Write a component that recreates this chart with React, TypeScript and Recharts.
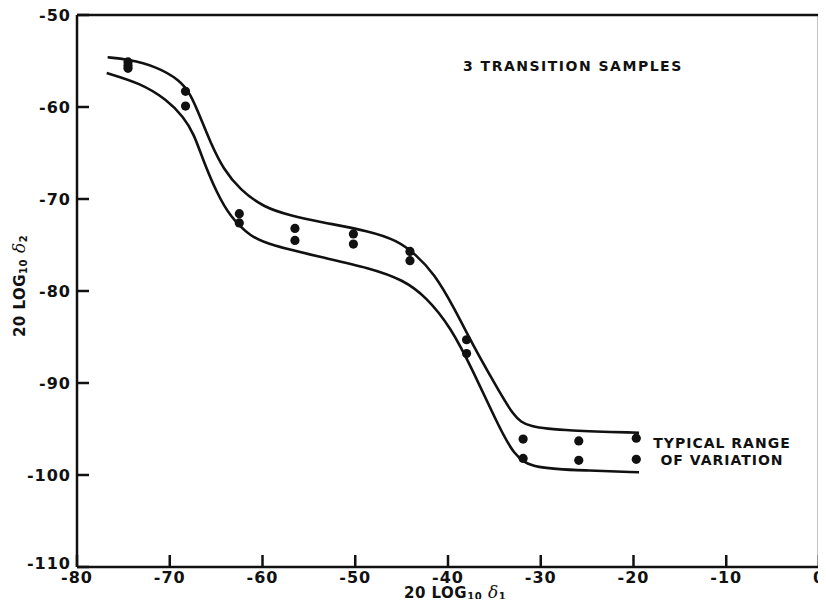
import { ComposedChart, Line, Scatter, XAxis, YAxis, ReferenceLine } from 'recharts';

// upper and lower bounds of the typical range of variation
const upperBound = [
  { x: -76.7, y: -54.6 },
  { x: -74.6, y: -54.8 },
  { x: -71.4, y: -55.6 },
  { x: -68.9, y: -57.1 },
  { x: -67.8, y: -58.5 },
  { x: -66.7, y: -61.1 },
  { x: -65.6, y: -63.9 },
  { x: -64.2, y: -66.8 },
  { x: -62.4, y: -69.0 },
  { x: -59.9, y: -70.9 },
  { x: -57.0, y: -71.8 },
  { x: -53.8, y: -72.5 },
  { x: -48.4, y: -73.5 },
  { x: -45.5, y: -74.5 },
  { x: -43.5, y: -76.0 },
  { x: -41.5, y: -78.1 },
  { x: -39.4, y: -81.7 },
  { x: -37.2, y: -86.1 },
  { x: -35.0, y: -90.0 },
  { x: -32.9, y: -93.7 },
  { x: -31.4, y: -94.8 },
  { x: -27.1, y: -95.2 },
  { x: -19.4, y: -95.4 },
  { x: -19.4, y: -95.4 },
];

const lowerBound = [
  { x: -76.8, y: -56.3 },
  { x: -73.2, y: -57.4 },
  { x: -70.3, y: -59.2 },
  { x: -68.5, y: -61.1 },
  { x: -67.4, y: -62.9 },
  { x: -66.4, y: -65.8 },
  { x: -64.9, y: -69.4 },
  { x: -63.5, y: -71.9 },
  { x: -61.3, y: -74.1 },
  { x: -59.2, y: -75.0 },
  { x: -53.8, y: -76.3 },
  { x: -48.4, y: -77.5 },
  { x: -44.8, y: -78.8 },
  { x: -42.4, y: -80.6 },
  { x: -39.7, y: -83.9 },
  { x: -37.2, y: -88.9 },
  { x: -35.0, y: -93.7 },
  { x: -32.9, y: -98.0 },
  { x: -30.7, y: -99.3 },
  { x: -25.3, y: -99.5 },
  { x: -19.4, y: -99.7 },
  { x: -19.4, y: -99.7 },
];

// measured samples
const samples = [
  { x: -74.5, y: -55.1 },
  { x: -74.5, y: -55.5 },
  { x: -74.5, y: -55.8 },
  { x: -68.3, y: -58.3 },
  { x: -68.3, y: -59.9 },
  { x: -62.5, y: -71.6 },
  { x: -62.5, y: -72.6 },
  { x: -56.5, y: -73.2 },
  { x: -56.5, y: -74.5 },
  { x: -50.2, y: -73.8 },
  { x: -50.2, y: -74.9 },
  { x: -44.1, y: -75.7 },
  { x: -44.1, y: -76.7 },
  { x: -38.0, y: -85.3 },
  { x: -38.0, y: -86.8 },
  { x: -31.9, y: -96.1 },
  { x: -31.9, y: -98.2 },
  { x: -25.9, y: -96.3 },
  { x: -25.9, y: -98.4 },
  { x: -19.7, y: -96.0 },
  { x: -19.7, y: -98.3 },
];

const xTicks = [-80, -70, -60, -50, -40, -30, -20, -10, 0];
const yTicks = [-50, -60, -70, -80, -90, -100, -110];

const FONT = '"DejaVu Sans", sans-serif';
const INK = '#111';

const fmt = (v: number) => (v < 0 ? '-' + Math.abs(v) : String(v));

// ticks point inward from the axis line
const YTick = (props: any) => {
  const { x, y, payload } = props;
  // the bottom label sits a little higher to clear the x labels
  const dy = payload.value === -110 ? 2 : 6;
  return (
    <g>
      <line x1={x} y1={y} x2={x + 12} y2={y} stroke={INK} strokeWidth={2.5} />
      <text
        x={x - 6}
        y={y}
        dy={dy}
        textAnchor="end"
        fontSize={16}
        fontWeight="bold"
        letterSpacing={1}
        fontFamily={FONT}
        fill={INK}
      >
        {fmt(payload.value)}
      </text>
    </g>
  );
};

const XTick = (props: any) => {
  const { x, y, payload } = props;
  return (
    <g>
      <line x1={x} y1={y} x2={x} y2={y - 12} stroke={INK} strokeWidth={2.5} />
      <text
        x={x}
        y={y}
        dy={16}
        textAnchor="middle"
        fontSize={16}
        fontWeight="bold"
        letterSpacing={1}
        fontFamily={FONT}
        fill={INK}
      >
        {fmt(payload.value)}
      </text>
    </g>
  );
};

const Dot = (props: any) => <circle cx={props.cx} cy={props.cy} r={4.6} fill={INK} />;

const noteStyle = { fontSize: 14, fontWeight: 'bold' as const, fontFamily: FONT, fill: INK };
const titleStyle = { ...noteStyle, fontSize: 15, letterSpacing: 0.5 };

export default function App() {
  return (
    <div style={{ margin: -8 }}>
      <ComposedChart width={826} height={607} margin={{ top: 15, right: 7, left: 17, bottom: 0 }}>
        <XAxis
          type="number"
          dataKey="x"
          domain={[-80, 0]}
          ticks={xTicks}
          interval={0}
          height={40}
          tickSize={0}
          tickMargin={0}
          tickLine={false}
          tick={<XTick />}
          axisLine={{ stroke: INK, strokeWidth: 2.5 }}
          allowDataOverflow
        />
        <YAxis
          type="number"
          dataKey="y"
          domain={[-110, -50]}
          ticks={yTicks}
          interval={0}
          width={60}
          tickSize={0}
          tickMargin={0}
          tickLine={false}
          tick={<YTick />}
          axisLine={{ stroke: INK, strokeWidth: 2.5 }}
          allowDataOverflow
        />
        <ReferenceLine y={-50} stroke={INK} strokeWidth={2.5} />
        <ReferenceLine x={0} stroke={INK} strokeWidth={2.5} />
        <Line
          data={upperBound}
          dataKey="y"
          type="basis"
          stroke={INK}
          strokeWidth={2.6}
          dot={false}
          isAnimationActive={false}
        />
        <Line
          data={lowerBound}
          dataKey="y"
          type="basis"
          stroke={INK}
          strokeWidth={2.6}
          dot={false}
          isAnimationActive={false}
        />
        <Scatter data={samples} dataKey="y" shape={<Dot />} isAnimationActive={false} />

        <text x={463} y={71} letterSpacing={1.5} {...noteStyle}>
          3 TRANSITION SAMPLES
        </text>
        <text x={722} y={448} textAnchor="middle" letterSpacing={1} {...noteStyle}>
          TYPICAL RANGE
        </text>
        <text x={722} y={465} textAnchor="middle" letterSpacing={1} {...noteStyle}>
          OF VARIATION
        </text>

        <text x={404} y={598} {...titleStyle}>
          20 LOG
          <tspan fontSize={10} dy={2}>10</tspan>
          <tspan fontSize={17} dy={-2} fontWeight="normal" fontStyle="italic" fontFamily="'DejaVu Serif', serif"> δ</tspan>
          <tspan fontSize={10} dy={2}>1</tspan>
        </text>
        <text transform="translate(25, 286) rotate(-90)" textAnchor="middle" {...titleStyle}>
          20 LOG
          <tspan fontSize={10} dy={2}>10</tspan>
          <tspan fontSize={17} dy={-2} fontWeight="normal" fontStyle="italic" fontFamily="'DejaVu Serif', serif"> δ</tspan>
          <tspan fontSize={10} dy={2}>2</tspan>
        </text>
      </ComposedChart>
    </div>
  );
}
